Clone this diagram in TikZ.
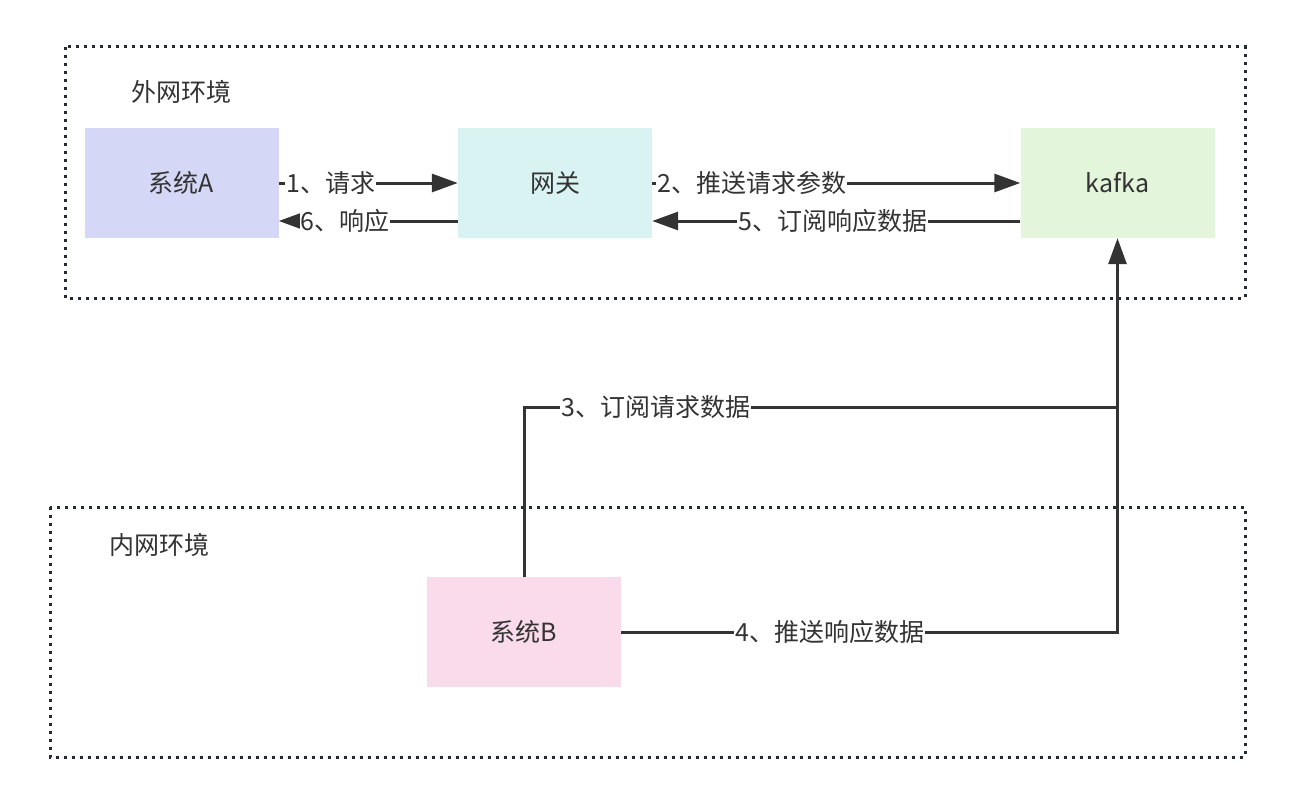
\documentclass[tikz,border=0pt]{standalone}
\usepackage{fontspec}
\setmainfont{Noto Sans CJK SC}
\usetikzlibrary{arrows.meta}
\definecolor{txt}{HTML}{333333}
\definecolor{ln}{HTML}{333333}
\definecolor{zl}{HTML}{222A33}
\definecolor{fa}{HTML}{D4D7F6}
\definecolor{fg}{HTML}{D9F3F2}
\definecolor{fk}{HTML}{E3F5DB}
\definecolor{fb}{HTML}{F9DBEB}
\tikzset{
  box/.style={minimum width=194pt, minimum height=110pt, inner sep=0pt, text=txt, font=\fontsize{25}{29}\selectfont},
  zone/.style={draw=zl, line width=3pt, dash pattern=on 3pt off 5pt},
  zonelabel/.style={text=txt, font=\fontsize{25}{29}\selectfont},
  conn/.style={draw=ln, line width=3pt},
  arr/.style={conn, -{Triangle[length=26pt,width=18pt]}},
  lbl/.style={fill=white, inner sep=1pt, text=txt, font=\fontsize{25}{29}\selectfont},
}
\begin{document}
\begin{tikzpicture}[x=1pt, y=-1pt]
\useasboundingbox (0,0) rectangle (1296,808);
\fill[white] (0,0) rectangle (1296,808);
% zones
\draw[zone] (65,47) rectangle (1245,298);
\draw[zone] (50,507) rectangle (1245,757);
\node[zonelabel] (outer) at (181,92) {外网环境};
\node[zonelabel] (inner) at (159,545) {内网环境};
% nodes
\node[box, fill=fa] (A) at (181.5,183) {系统A};
\node[box, fill=fg] (G) at (555,183) {网关};
\node[box, fill=fk] (K) at (1117.5,183) {kafka};
\node[box, fill=fb] (B) at (524,632) {系统B};
% connectors
\draw[arr] (A.east |- 0,183) -- node[lbl, pos=0.29] {1、请求} (G.west |- 0,183);
\draw[arr] (G.west |- 0,221) -- node[lbl, pos=0.63] {6、响应} (A.east |- 0,221);
\draw[arr] (G.east |- 0,183) -- node[lbl, pos=0.27] {2、推送请求参数} (K.west |- 0,183);
\draw[arr] (K.west |- 0,221) -- node[lbl, pos=0.51] {5、订阅响应数据} (G.east |- 0,221);
\coordinate (j) at (K.south |- 0,407);
\coordinate (c3) at (B.north |- 0,407);
\coordinate (c4) at (K.south |- B.east);
\draw[conn] (B.north) -- (c3) -- node[lbl, pos=0.222] {3、订阅请求数据} (j);
\draw[arr] (j) -- (K.south);
\draw[conn] (B.east) -- node[lbl, pos=0.42] {4、推送响应数据} (c4) -- (j);
\end{tikzpicture}
\end{document}
